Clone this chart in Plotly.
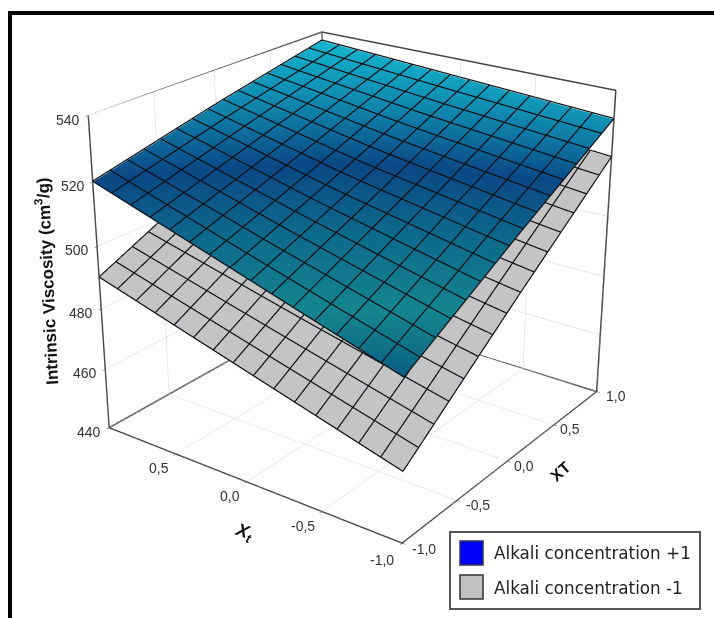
import plotly.graph_objects as go

# ---- data ----
XT_VALUES = [-1.0, 0.0, 1.0]            # plot x
XT_TICKS = [-1.0, -0.5, 0.0, 0.5, 1.0]
Xt_VALUES = [-1.0, 0.0, 1.0]            # plot y
Xt_TICKS = [0.5, 0.0, -0.5, -1.0]
Z_TICKS = [440, 460, 480, 500, 520, 540]
# rows follow Xt, columns follow XT
Z_PLUS = [
    [490.0, 511.0, 531.0],
    [505.0, 519.0, 534.0],
    [520.0, 529.0, 537.0],
]
Z_MINUS = [
    [462.0, 491.0, 519.0],
    [476.0, 499.0, 523.0],
    [490.0, 508.0, 527.0],
]
MESH_CELLS = 15
LEGEND_NAMES = ["Alkali concentration +1", "Alkali concentration -1"]
LEGEND_COLORS = ["#0000ff", "#c0c0c0"]

# ---- canvas: a large plot whose window onto the page is 714x618 ----
PW, PH = 1400, 1382
OFFX, OFFY = 342, 429
def px(x): return (x + OFFX) / PW
def py(y): return 1 - (y + OFFY) / PH

plus_scale = [
    [0.00, "#0b5b85"], [0.08, "#0e7086"], [0.20, "#14858f"],
    [0.43, "#0d6a8c"], [0.64, "#0a4886"], [0.80, "#0f7fa8"], [1.00, "#13b4cf"],
]
flat = dict(ambient=1, diffuse=0, specular=0, fresnel=0, roughness=1)

def surf_z(Z, a, b):
    """Height of a read surface at XT=a, Xt=b, between the read grid nodes."""
    i = min(int(a + 1), 1); j = min(int(b + 1), 1)
    u = a + 1 - i; v = b + 1 - j
    return (Z[j][i] * (1 - u) * (1 - v) + Z[j][i + 1] * u * (1 - v)
            + Z[j + 1][i] * (1 - u) * v + Z[j + 1][i + 1] * u * v)

def mesh(Z, lift=0.3):
    """The surface's wire mesh, as one line trace."""
    steps = [-1 + 2 * k / MESH_CELLS for k in range(MESH_CELLS + 1)]
    xs, ys, zs = [], [], []
    for s in steps:
        for t in steps:
            xs.append(s); ys.append(t); zs.append(surf_z(Z, s, t) + lift)
        xs.append(None); ys.append(None); zs.append(None)
        for t in steps:
            xs.append(t); ys.append(s); zs.append(surf_z(Z, t, s) + lift)
        xs.append(None); ys.append(None); zs.append(None)
    return go.Scatter3d(x=xs, y=ys, z=zs, mode="lines", line=dict(color="#0c1014", width=2.4),
                        hoverinfo="skip", showlegend=False)

fig = go.Figure()
fig.add_surface(x=XT_VALUES, y=Xt_VALUES, z=Z_PLUS, colorscale=plus_scale, cmin=490, cmax=537,
                showscale=False, lighting=flat, hoverinfo="skip", name=LEGEND_NAMES[0])
fig.add_surface(x=XT_VALUES, y=Xt_VALUES, z=Z_MINUS, colorscale=[[0, "#c4c4c4"], [1, "#c4c4c4"]],
                showscale=False, lighting=flat, hoverinfo="skip", name=LEGEND_NAMES[1])
fig.add_trace(mesh(Z_PLUS))
fig.add_trace(mesh(Z_MINUS))
# box edges at the back of the cube
xl, xh = XT_TICKS[0], XT_TICKS[-1]
zl, zh = Z_TICKS[0], Z_TICKS[-1]
fig.add_scatter3d(x=[xl, xh, xh, xh, xh, None, xh, xh, None, xl, xh, xh],
                  y=[xh, xh, xl, xl, xh, None, xh, xh, None, xh, xh, xl],
                  z=[zh, zh, zh, zl, zl, None, zh, zl, None, zl, zl, zl],
                  mode="lines", line=dict(color="#444444", width=3),
                  hoverinfo="skip", showlegend=False)

tick_font = dict(family="Liberation Sans", size=14, color="#333333")
title_font = dict(family="Liberation Sans", size=17, color="#111111")
def axis(rng, vals):
    return dict(title=dict(text=""), range=rng, tickvals=vals, showticklabels=False,
                showbackground=False, gridcolor="#d2d2d2", gridwidth=1,
                showline=True, linecolor="#444444", linewidth=3, ticks="outside", ticklen=3,
                tickcolor="#444444", zeroline=False, showspikes=False)

def comma(v):
    return ("%.1f" % v).replace(".", ",")

sa = []
def label(x, y, z, text, dx, dy, font=tick_font, angle=0):
    sa.append(dict(x=x, y=y, z=z, text=text, showarrow=False, xanchor="center", yanchor="middle",
                   xshift=dx, yshift=-dy, font=font, textangle=angle))
for v in Z_TICKS:
    label(xl, xh, v, str(v), -20, 4)
for v, (dx, dy) in zip(Xt_TICKS, [(-17, 14), (-17, 14), (-19, 14), (-20, 17)]):
    label(xl, v, zl, comma(v), dx, dy)
for v, (dx, dy) in zip(XT_TICKS, [(22, 6), (21, 5), (17, 5), (16, 4), (19, 4)]):
    label(v, xl, zl, comma(v), dx, dy)
label(xl, 0, zl, "<b><i>X<sub>t</sub></i></b>", -3, 51, dict(title_font, size=18), 20)
label(0, xl, zl, "<b>XT</b>", 53, 10, dict(title_font, size=16), -42)
label(xl, xh, 490, "<b>Intrinsic Viscosity (cm<sup>3</sup>/g)</b>", -53, 3, title_font, -92.75)

shapes = [
    dict(type="rect", xref="paper", yref="paper", x0=px(8), x1=px(760), y0=py(11), y1=py(15),
         fillcolor="#000000", line_width=0),
    dict(type="rect", xref="paper", yref="paper", x0=px(8), x1=px(12), y0=py(11), y1=py(660),
         fillcolor="#000000", line_width=0),
    dict(type="rect", xref="paper", yref="paper", x0=px(450), x1=px(700), y0=py(532), y1=py(609),
         fillcolor="#ffffff", line=dict(color="#555555", width=2)),
    dict(type="rect", xref="paper", yref="paper", x0=px(460), x1=px(483), y0=py(541), y1=py(565),
         fillcolor=LEGEND_COLORS[0], line=dict(color="#333355", width=1.5)),
    dict(type="rect", xref="paper", yref="paper", x0=px(460), x1=px(483), y0=py(575), y1=py(599),
         fillcolor=LEGEND_COLORS[1], line=dict(color="#333333", width=1.5)),
]
legend_font = dict(family="DejaVu Sans", size=16.8, color="#222222")
annots = [
    dict(xref="paper", yref="paper", x=px(492), y=py(553), text=LEGEND_NAMES[0], showarrow=False,
         xanchor="left", yanchor="middle", font=legend_font),
    dict(xref="paper", yref="paper", x=px(492), y=py(588), text=LEGEND_NAMES[1], showarrow=False,
         xanchor="left", yanchor="middle", font=legend_font),
]

fig.update_layout(
    width=PW, height=PH, margin=dict(l=0, r=0, t=0, b=0), autosize=False,
    paper_bgcolor="#ffffff", showlegend=False,
    shapes=shapes, annotations=annots,
    scene=dict(
        domain=dict(x=[0, 1], y=[0, 1]),
        xaxis=axis([-1, 1], XT_TICKS),
        yaxis=axis([-1, 1], XT_TICKS),
        zaxis=axis([440, 540], Z_TICKS),
        annotations=sa,
        aspectmode="manual", aspectratio=dict(x=1, y=1.0009, z=0.9197),
        camera=dict(eye=dict(x=-3.4179, y=-2.4939, z=1.817), up=dict(x=0, y=0, z=1),
                    center=dict(x=0, y=0, z=0), projection=dict(type="perspective")),
    ),
)
post = ("document.body.style.margin='0';document.documentElement.style.overflow='hidden';"
        "document.body.style.overflow='hidden';var g=document.getElementById('{plot_id}');"
        "g.style.position='absolute';g.style.left='-%dpx';g.style.top='-%dpx';" % (OFFX, OFFY))
fig.write_html("out.html", post_script=post)
